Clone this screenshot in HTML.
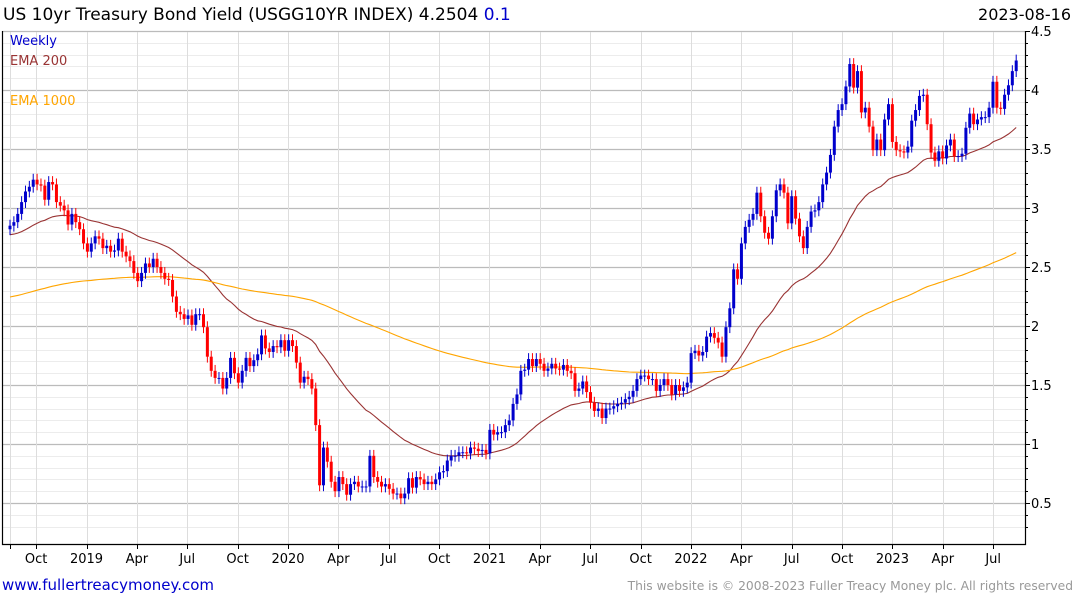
<!DOCTYPE html>
<html><head><meta charset="utf-8"><style>
body{margin:0;background:#fff;width:1075px;height:600px;overflow:hidden;font-family:"DejaVu Sans",sans-serif}
</style></head><body>
<svg id="chart" width="1075" height="600" xmlns="http://www.w3.org/2000/svg" font-family="DejaVu Sans, sans-serif">
<text x="3" y="20" font-size="17" fill="#000">US 10yr Treasury Bond Yield (USGG10YR INDEX) 4.2504 <tspan fill="#0000cc">0.1</tspan></text>
<text x="1071" y="20" font-size="16" text-anchor="end" fill="#000">2023-08-16</text>
<g id="grid"></g>
<g id="emas"></g>
<g id="candles"></g>
<g id="axes"></g>
<text x="10" y="45" font-size="13" fill="#0000cc">Weekly</text>
<text x="10" y="65" font-size="13" fill="#993333">EMA 200</text>
<text x="10" y="105" font-size="13" fill="#ffa500">EMA 1000</text>
<a><text x="2" y="590" font-size="15" fill="#0000cc">www.fullertreacymoney.com</text></a>
<text x="1073" y="590" font-size="12.3" text-anchor="end" fill="#999">This website is © 2008-2023 Fuller Treacy Money plc. All rights reserved</text>
</svg>
<script>
const closes = [
2.85,2.88,2.95,3.05,3.14,3.18,3.24,3.2,3.19,3.07,3.22,3.2,3.05,3.02,2.98,2.86,2.95,2.88,2.82,2.7,
2.63,2.7,2.76,2.74,2.66,2.68,2.63,2.64,2.74,2.63,2.59,2.55,2.45,2.38,2.45,2.53,2.5,2.57,2.5,2.45,
2.4,2.39,2.25,2.12,2.1,2.06,2.09,2.01,2.1,2.1,1.99,1.74,1.62,1.56,1.56,1.47,1.56,1.73,1.6,1.52,
1.62,1.73,1.66,1.71,1.76,1.92,1.81,1.78,1.83,1.82,1.88,1.79,1.88,
1.83,1.69,1.52,1.57,1.55,1.47,1.16,0.65,0.97,0.85,0.68,0.6,0.72,0.66,0.57,0.66,0.68,0.64,0.64,0.64,
0.9,0.72,0.68,0.64,0.66,0.62,0.58,0.58,0.54,0.58,0.71,0.63,0.72,0.7,0.66,0.68,0.66,0.7,0.76,0.77,
0.86,0.9,0.9,0.93,0.93,0.92,0.97,0.96,0.94,0.95,0.92,1.12,1.08,1.1,1.1,1.16,1.2,1.34,1.42,1.62,
1.63,1.72,1.66,1.72,1.68,1.62,1.64,1.68,1.64,1.63,1.67,1.62,1.6,1.45,1.47,1.53,1.44,1.35,1.28,1.3,
1.22,1.3,1.3,1.32,1.34,1.35,1.38,1.4,1.45,1.55,1.58,1.58,1.55,1.55,1.45,1.5,1.55,1.5,1.42,1.5,
1.45,1.48,1.52,
1.77,1.79,1.75,1.78,1.91,1.94,1.9,1.86,1.74,1.99,2.15,2.48,2.4,2.7,2.84,2.9,2.95,3.13,2.93,2.79,
2.74,2.93,3.15,3.2,3.13,2.87,3.1,2.91,2.76,2.66,2.84,2.97,2.98,3.05,3.2,3.3,3.45,3.69,3.83,3.88,
4.03,4.22,4.02,4.16,3.81,3.85,3.69,3.49,3.58,3.49,3.75,3.88,3.56,3.49,3.48,3.47,3.52,3.74,3.83,3.95,
3.96,3.71,3.47,3.4,3.48,3.42,3.53,3.58,3.44,3.44,3.46,3.68,3.8,3.71,3.75,3.77,3.77,3.85,4.07,3.85,
3.84,3.96,4.04,4.16,4.25];
const firstOpen = 2.82;
const ema200Seed = 2.77;
const ema1000Seed = 2.24;
const ema200Weeks = 40;
const ema1000Weeks = 200;
const yTicks = [0.5,1,1.5,2,2.5,3,3.5,4,4.5];
const monthLabels = ["Oct","2019","Apr","Jul","Oct","2020","Apr","Jul","Oct","2021","Apr","Jul","Oct","2022","Apr","Jul","Oct","2023","Apr","Jul"];
const monthOffsets = [-15,-12,-9,-6,-3,0,3,6,9,12,15,18,21,24,27,30,33,36,39,42];

const NS="http://www.w3.org/2000/svg";
const L=2,R=1025,T=31,B=544;
const xWeek=i=>10+i*3.87;
const y=v=>90+(4-v)*118;
const xMonth=m=>290+m*16.79-2;
function mk(tag,attrs,parent){const e=document.createElementNS(NS,tag);for(const k in attrs)e.setAttribute(k,attrs[k]);parent.appendChild(e);return e;}
const grid=document.getElementById('grid'),axes=document.getElementById('axes'),cg=document.getElementById('candles'),eg=document.getElementById('emas');
for(let k=3;k<=45;k++){const v=k/10;const yy=Math.round(y(v))+0.5;if(yy<T||yy>B)continue;
 const major=k%5===0;
 const ln=mk('line',{x1:L,x2:R,y1:yy,y2:yy,stroke:major?'#bbbbbb':'#ececec','stroke-width':major?1.2:1},grid);
 
 
 const tk=mk('line',{x1:R,x2:R+(major?5:3),y1:yy,y2:yy,stroke:'#000'},axes);
 
 
}
const vx=[10].concat(monthOffsets.map(xMonth));
vx.forEach(xx=>{xx=Math.round(xx)+0.5;
 const ln=mk('line',{x1:xx,x2:xx,y1:T,y2:B,stroke:'#dddddd'},grid);
 
 
 const tk=mk('line',{x1:xx,x2:xx,y1:B,y2:B+5,stroke:'#000'},axes);
 
 
});
monthLabels.forEach((s,i)=>{const t=mk('text',{x:xMonth(monthOffsets[i]),y:563,'font-size':13,'text-anchor':'middle',fill:'#000'},axes);t.textContent=s;
 
 });
yTicks.forEach(v=>{const t=mk('text',{x:R+6,y:y(v)+5,'font-size':13,fill:'#000'},axes);t.textContent=String(v);
 
 });
const fr=mk('path',{d:`M${L+0.5},${T} V${B+0.5} H${R+0.5} V${T}`,fill:'none',stroke:'#000','stroke-width':1.2},axes);


mk('line',{x1:L,x2:R,y1:T+0.5,y2:T+0.5,stroke:'#bbb'},grid);
function ema(seed,n){const a=2/(n+1);let e=seed;return closes.map(c=>(e=e+a*(c-e)));}
[[ema(ema200Seed,ema200Weeks),'#993333','ema-200-line'],[ema(ema1000Seed,ema1000Weeks),'#ffa500','ema-1000-line']].forEach(([arr,col,name])=>{
 const p=mk('polyline',{points:arr.map((v,i)=>xWeek(i).toFixed(1)+','+y(v).toFixed(1)).join(' '),fill:'none',stroke:col,'stroke-width':1.1},eg);
 
 
});
closes.forEach((c,i)=>{const o=i===0?firstOpen:closes[i-1];const up=c>=o;const col=up?'#0000cc':'#ff0000';
 const hi=Math.max(o,c)+0.05,lo=Math.min(o,c)-0.05;const xx=xWeek(i);
 const g=mk('g',{},cg);
 
 
 mk('line',{x1:xx,x2:xx,y1:y(hi),y2:y(lo),stroke:col,'stroke-width':1},g);
 const top=y(Math.max(o,c)),bot=y(Math.min(o,c));
 mk('rect',{x:xx-1.5,y:top,width:3,height:Math.max(1,bot-top),fill:col},g);
});
</script>
</body></html>
